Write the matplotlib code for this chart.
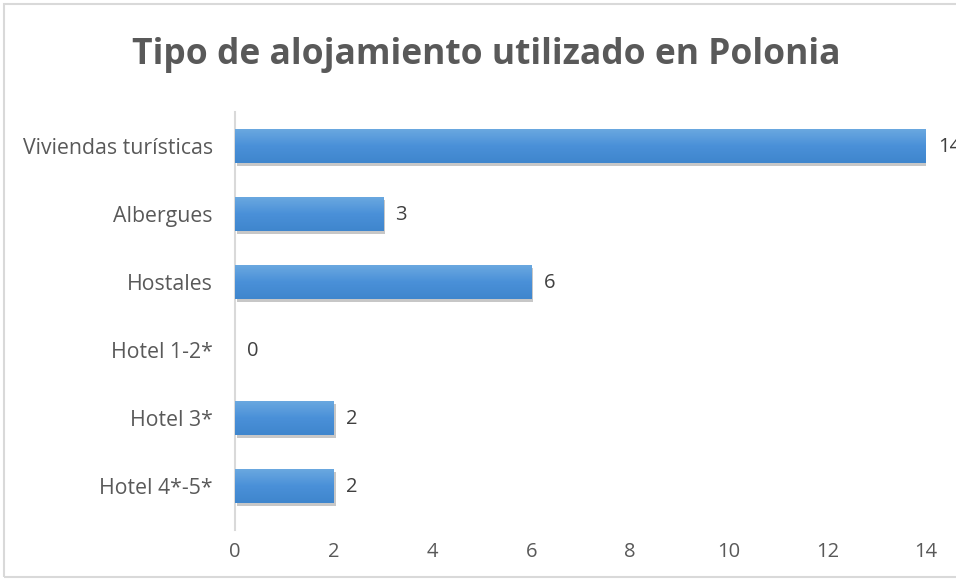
import matplotlib
matplotlib.use("Agg")
import matplotlib.pyplot as plt
import numpy as np
from matplotlib.patches import Rectangle
import matplotlib.patheffects as pe
from matplotlib.colors import LinearSegmentedColormap

categories = ["Viviendas turísticas", "Albergues", "Hostales", "Hotel 1-2*", "Hotel 3*", "Hotel 4*-5*"]
values = [14, 3, 6, 0, 2, 2]
xticks = [0, 2, 4, 6, 8, 10, 12, 14]
title = "Tipo de alojamiento utilizado en Polonia"

plt.rcParams['font.family'] = ['Open Sans', 'DejaVu Sans']
fig = plt.figure(figsize=(9.56, 5.8), dpi=100)
fig.patches.append(Rectangle((4/956, 3/580), 1.2, (577-4)/580, transform=fig.transFigure,
                             fill=False, edgecolor='#d9d9d9', linewidth=1.5))
ax = fig.add_axes([235/956, 1-520/580, (926-235)/956, (520-112)/580])

y = np.arange(len(categories))[::-1]
bars = ax.barh(y, values, height=0.5, color='#4a8fd8', zorder=2,
               path_effects=[pe.SimplePatchShadow(offset=(1.5, -2.5), shadow_rgbFace='#000000', alpha=0.22), pe.Normal()])
grad = np.linspace(0, 1, 100).reshape(-1, 1)
cmap = LinearSegmentedColormap.from_list('g', ['#3f86cd', '#4a90d8', '#6aa8e0'])
for b in bars:
    w = b.get_width()
    if w <= 0:
        continue
    x0, y0, h = b.get_x(), b.get_y(), b.get_height()
    im = ax.imshow(grad, cmap=cmap, aspect='auto', extent=(x0, x0 + w, y0, y0 + h), origin='lower', zorder=3)
    im.set_clip_path(b)
for yi, v in zip(y, values):
    ax.text(v + 0.25, yi - 0.02, str(v), va='center', ha='left', fontsize=14.5, color='#404040', clip_on=False)

ax.set_xlim(0, 14)
ax.set_ylim(-0.5, len(categories) - 0.5)
ax.set_yticks(y)
ax.set_yticklabels(categories, fontsize=15.3, color='#595959')
ax.set_xticks(xticks)
ax.set_xticklabels([str(t) for t in xticks], fontsize=14.5, color='#595959')
ax.tick_params(axis='y', length=0, pad=16)
ax.tick_params(axis='x', length=0, pad=16)
for s in ['top', 'right', 'bottom']:
    ax.spines[s].set_visible(False)
ax.spines['left'].set_color('#d9d9d9')
ax.spines['left'].set_linewidth(1.5)
ax.spines['left'].set_bounds(-0.5 - 0.15, 5.5)
fig.text(486/956, 1-55/580, title, ha='center', va='center', fontsize=25.5, fontweight='bold', color='#595959')
fig.savefig("out.png", dpi=100)
